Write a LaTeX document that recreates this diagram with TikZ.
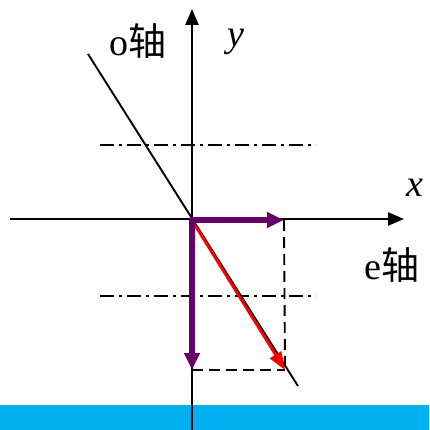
\documentclass[tikz,border=0pt]{standalone}
\usepackage{fontspec}
\setmainfont{Liberation Serif}
\newfontfamily\cjk{Noto Sans CJK SC}
\usetikzlibrary{arrows.meta}
\definecolor{bandblue}{RGB}{0,176,240}
\definecolor{vecpurple}{RGB}{102,0,102}
\tikzset{
  axis/.style={line width=2.4pt,-{Triangle[length=16pt,width=13pt]}},
  optic/.style={line width=1.9pt},
  dashdot/.style={line width=1.7pt,dash pattern=on 14pt off 5pt on 3pt off 5pt},
  guide/.style={line width=1.9pt,dash pattern=on 11pt off 6pt},
  comp/.style={line width=5.5pt,vecpurple,-{Triangle[length=17pt,width=15pt]}},
  res/.style={line width=2.8pt,red,-{Triangle[length=18pt,width=13pt]}},
  lbl/.style={font=\fontsize{38}{40}\selectfont,inner sep=0pt}
}
\begin{document}
\begin{tikzpicture}[x=1pt,y=-1pt]
\useasboundingbox (0,0) rectangle (429,430);
\fill[bandblue] (0,405) rectangle (429,430);
\coordinate (O) at (192,219);
\coordinate (yb) at (192,430);
\coordinate (yt) at (192,9);
\coordinate (xl) at (10,219);
\coordinate (xr) at (404,219);
\coordinate (oa) at (88,54);
\coordinate (ob) at (298,386);
\coordinate (d1l) at (100,145);
\coordinate (d1r) at (316,145);
\coordinate (d2l) at (100,296);
\coordinate (d2r) at (316,296);
\coordinate (ex) at (284,220);
\coordinate (oy) at (192,370);
\coordinate (R) at (285,370);
\draw[axis] (yb) -- (yt);
\draw[axis] (xl) -- (xr);
\draw[optic] (oa) -- (ob);
\draw[dashdot] (d1l) -- (d1r);
\draw[dashdot] (d2l) -- (d2r);
\draw[guide] (ex) -- (R);
\draw[guide] (oy) -- (R);
\draw[res] (193,222) -- (R);
\draw[comp] (189.5,220) -- (ex);
\draw[comp] (O) -- (oy);
\node[lbl] (ol) at (138,41) {o{\cjk 轴}};
\node[lbl] (yl) at (236,42) {\textit{y}};
\node[lbl] (xlb) at (415,188) {\textit{x}};
\node[lbl] (el) at (392,265) {e{\cjk 轴}};
\end{tikzpicture}
\end{document}
